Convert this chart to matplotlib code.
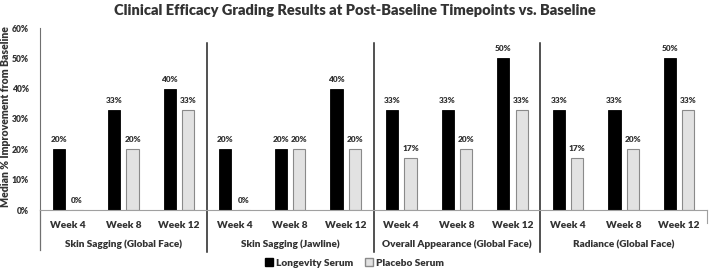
import numpy as np
import matplotlib.pyplot as plt
from matplotlib.patches import Patch

plt.rcParams['font.family'] = ['Lato', 'DejaVu Sans']
plt.rcParams['font.weight'] = 'heavy'

# data
groups = ["Skin Sagging (Global Face)", "Skin Sagging (Jawline)",
          "Overall Appearance (Global Face)", "Radiance (Global Face)"]
weeks = ["Week 4", "Week 8", "Week 12"]
longevity = [20, 33, 40, 20, 20, 40, 33, 33, 50, 33, 33, 50]
placebo = [0, 20, 33, 0, 20, 20, 17, 20, 33, 17, 20, 33]

txt = '#333333'
bw = 'heavy'
fig = plt.figure(figsize=(7.09, 2.71), dpi=100)
ax = fig.add_axes([40 / 709, 1 - 210 / 271, 667 / 709, 182 / 271])

x = np.arange(len(longevity))
w = 0.22
off = 0.165
ax.bar(x - off, longevity, w, color='black', edgecolor='black', linewidth=0.6)
ax.bar(x + off, placebo, w, color='#e2e2e2', edgecolor='#8a8a8a', linewidth=0.8)

for i in x:
    ax.text(i - off, longevity[i] + 2, f"{longevity[i]}%", ha='center', va='bottom',
            fontsize=6, color=txt, fontweight=bw)
    ax.text(i + off, placebo[i] + 2, f"{placebo[i]}%", ha='center', va='bottom',
            fontsize=6, color=txt, fontweight=bw)

ax.set_xlim(-0.5, len(x) - 0.5)
ax.set_ylim(0, 60)
ax.set_yticks(range(0, 61, 10))
ax.set_yticklabels([f"{v}%" for v in range(0, 61, 10)], fontsize=6.2, color=txt,
                   fontweight=bw)
ax.set_xticks(x)
ax.set_xticklabels(weeks * len(groups), fontsize=7.3, color=txt, fontweight=bw)
ax.tick_params(axis='x', length=0, pad=8)
ax.tick_params(axis='y', length=0, pad=8)

for s in ['top', 'right']:
    ax.spines[s].set_visible(False)
ax.spines['bottom'].set_color('#a0a0a0')
ax.spines['left'].set_color('#707070')

# group separators and group labels
tr = ax.get_xaxis_transform()
ax.plot([-0.5, -0.5], [0, -0.22], transform=tr, color='#707070', lw=0.9, clip_on=False)
for g in range(1, len(groups)):
    xs = g * 3 - 0.5
    ax.plot([xs, xs], [55 / 60, -0.23], transform=tr, color='#222222', lw=1.1, clip_on=False)
ax.plot([11.5, 11.5], [0, -0.07], transform=tr, color='#a0a0a0', lw=0.8, clip_on=False)
for g, name in enumerate(groups):
    ax.text(g * 3 + 1, -0.19, name, transform=tr, ha='center', va='center',
            fontsize=7.2, color=txt, fontweight=bw)

ax.set_ylabel("Median % Improvement from Baseline", fontsize=7.6, color=txt,
              fontweight=bw)
ax.yaxis.set_label_coords(-0.044, 0.516)
fig.suptitle("Clinical Efficacy Grading Results at Post-Baseline Timepoints vs. Baseline",
             x=0.5, y=0.985, fontsize=10.5, color=txt, fontweight=bw)

handles = [Patch(facecolor='black', edgecolor='black', label='Longevity Serum'),
           Patch(facecolor='#e2e2e2', edgecolor='#8a8a8a', label='Placebo Serum')]
fig.legend(handles=handles, loc='center', bbox_to_anchor=(0.5, 0.03), ncol=2,
           frameon=False, prop={'size': 7.3, 'weight': bw}, handlelength=0.8,
           handleheight=0.8, handletextpad=0.3, columnspacing=1.2, labelcolor=txt)

fig.savefig('out.png', dpi=100)
